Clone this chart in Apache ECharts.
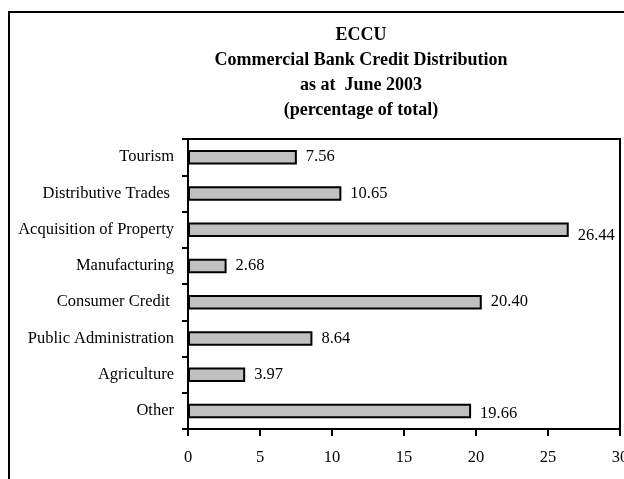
<!DOCTYPE html>
<html>
<head>
<meta charset="utf-8">
<script src="https://cdn.jsdelivr.net/npm/echarts@6/dist/echarts.min.js"></script>
<style>
  html, body { margin: 0; padding: 0; background: #fff; }
  #chart { width: 624px; height: 479px; }
</style>
</head>
<body>
<div id="chart"></div>
<script>
// Sectors, top to bottom
const categories = [
  'Tourism',
  'Distributive Trades ',
  'Acquisition of Property',
  'Manufacturing',
  'Consumer Credit ',
  'Public Administration',
  'Agriculture',
  'Other'
];
// Share of total commercial bank credit (%)
const shares = [7.56, 10.65, 26.44, 2.68, 20.40, 8.64, 3.97, 19.66];
const titleLines = [
  'ECCU',
  'Commercial Bank Credit Distribution',
  'as at  June 2003',
  '(percentage of total)'
];
const xTicks = { min: 0, max: 30, interval: 5 };

const serif = '"Liberation Serif", "Times New Roman", serif';
const FS = 16.5;

const chart = echarts.init(document.getElementById('chart'), null, { renderer: 'canvas' });

const option = {
  backgroundColor: '#fff',
  animation: false,
  title: {
    text: titleLines.join('\n'),
    left: 356,
    top: 18,
    textAlign: 'center',
    textStyle: {
      fontFamily: serif,
      fontWeight: 'bold',
      fontSize: 18,
      lineHeight: 25,
      color: '#000'
    }
  },
  graphic: [{
    type: 'rect',
    shape: { x: 9, y: 12, width: 630, height: 480 },
    style: { fill: 'none', stroke: '#000', lineWidth: 2 },
    z: 100
  }],
  grid: {
    left: 188,
    right: 4,
    top: 139,
    bottom: 50,
    outerBoundsMode: 'none',
    containLabel: false,
    show: true,
    borderColor: '#000',
    borderWidth: 2,
    backgroundColor: 'transparent'
  },
  xAxis: {
    type: 'value',
    min: xTicks.min,
    max: xTicks.max,
    interval: xTicks.interval,
    splitLine: { show: false },
    axisLine: { show: true, lineStyle: { color: '#000', width: 2 } },
    axisTick: { show: true, inside: false, length: 7, lineStyle: { color: '#000', width: 2 } },
    axisLabel: {
      show: true,
      margin: 20,
      fontFamily: serif,
      fontSize: FS,
      color: '#000'
    }
  },
  yAxis: {
    type: 'category',
    data: categories,
    inverse: true,
    axisLine: { show: true, lineStyle: { color: '#000', width: 2 } },
    axisTick: { show: true, inside: false, length: 6, lineStyle: { color: '#000', width: 2 } },
    axisLabel: {
      margin: 14,
      fontFamily: serif,
      fontSize: FS,
      color: '#000'
    }
  },
  series: [{
    type: 'bar',
    data: shares.map((v, i) => ({
      value: v,
      label: i === 2 ? { offset: [0, 6] } : (i === 7 ? { offset: [0, 3] } : {})
    })),
    barWidth: '40%',
    itemStyle: { color: '#c0c0c0', borderColor: '#000', borderWidth: 2 },
    label: {
      show: true,
      position: 'right',
      distance: 9,
      fontFamily: serif,
      fontSize: FS,
      color: '#000',
      formatter: p => p.value.toFixed(2)
    }
  }]
};

chart.setOption(option);
</script>
</body>
</html>
